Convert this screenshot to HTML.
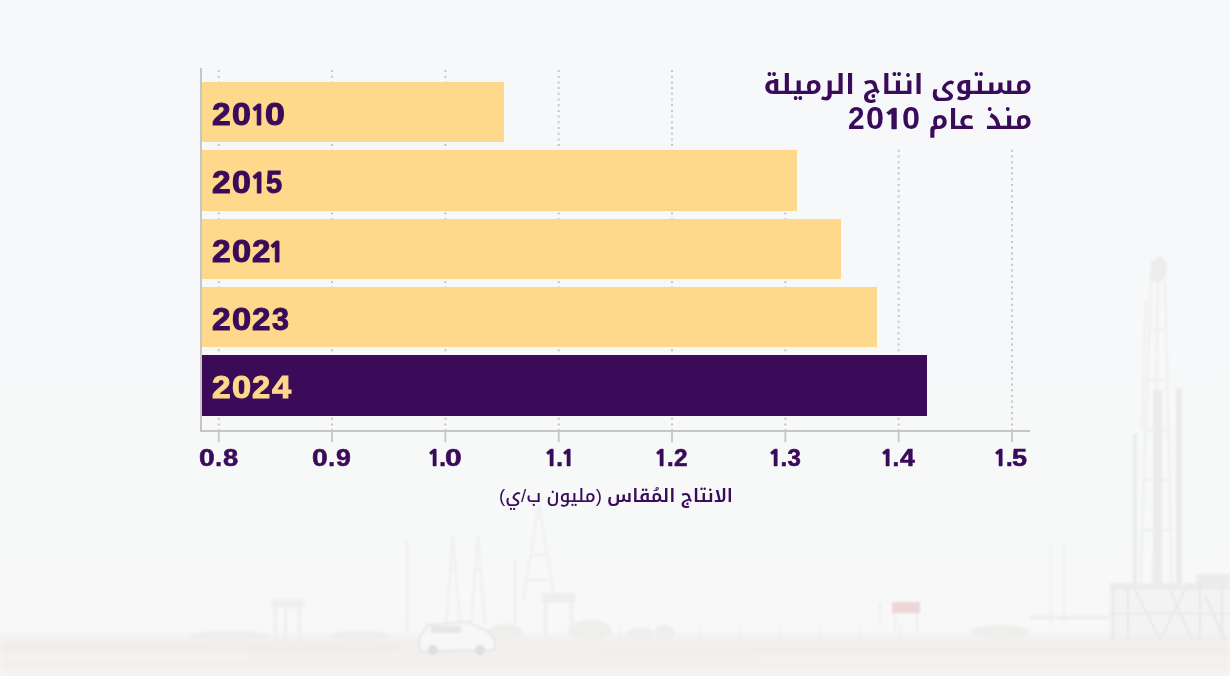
<!DOCTYPE html>
<html lang="ar">
<head>
<meta charset="utf-8">
<style>
html,body{margin:0;padding:0;}
body{width:1230px;height:676px;overflow:hidden;position:relative;background:#f7f8fa;}
#bg{position:absolute;left:0;top:0;width:1230px;height:676px;}
.bar{position:absolute;left:202px;height:60.4px;background:#fed98b;}
.bar.hl{background:#3b0b59;}
.lbl{position:absolute;left:0;top:0;}
.g{position:absolute;line-height:40px;transform-origin:0 0;color:#3a0b5a;-webkit-text-stroke-color:#3a0b5a;white-space:pre;}
.lbl.hl .g{color:#fed98b;-webkit-text-stroke-color:#fed98b;}
.bar-lib{font-family:"Liberation Sans",sans-serif;font-weight:700;font-size:30.5px;-webkit-text-stroke-width:1px;}
.bar-one{font-family:"NanumGothic","Liberation Sans",sans-serif;font-weight:800;font-size:28.5px;-webkit-text-stroke-width:0.8px;}
.tick-lib{font-family:"Liberation Sans",sans-serif;font-weight:700;font-size:24px;-webkit-text-stroke-width:0.6px;}
.title-lib{font-family:"Liberation Sans",sans-serif;font-weight:700;font-size:32px;-webkit-text-stroke-width:0px;}
.title-one{font-family:"NanumGothic","Liberation Sans",sans-serif;font-weight:800;font-size:27px;-webkit-text-stroke-width:0.4px;}
.tick-one{font-family:"NanumGothic","Liberation Sans",sans-serif;font-weight:800;font-size:22.5px;-webkit-text-stroke-width:0.5px;}
.titlebox{position:absolute;left:700px;top:58px;width:340px;height:91px;background:#f7f8fa;}
.title{position:absolute;right:198px;direction:rtl;text-align:right;font-family:"Liberation Sans","Noto Kufi Arabic","DejaVu Sans",sans-serif;font-weight:700;font-size:27.6px;line-height:35.5px;color:#3a0b5a;white-space:nowrap;}
.xl{position:absolute;left:1px;width:1230px;top:484px;text-align:center;direction:rtl;font-family:"Liberation Sans","Noto Kufi Arabic","DejaVu Sans",sans-serif;font-size:18.6px;font-weight:500;color:#3a0b5a;line-height:24px;}
.xl b{font-weight:600;}
</style>
</head>
<body>
<svg id="bg" width="1230" height="676" viewBox="0 0 1230 676">
  <defs>
    <linearGradient id="sky" x1="0" y1="0" x2="0" y2="1">
      <stop offset="0" stop-color="#f7f8fa"/>
      <stop offset="0.55" stop-color="#f7f8f9"/>
      <stop offset="0.9" stop-color="#f8f8f8"/>
      <stop offset="1" stop-color="#f8f7f7"/>
    </linearGradient>
    <linearGradient id="ground" x1="0" y1="0" x2="0" y2="1">
      <stop offset="0" stop-color="#f1eeea"/>
      <stop offset="0.3" stop-color="#f4f1ed"/>
      <stop offset="1" stop-color="#f6f3f0"/>
    </linearGradient>
    <filter id="bl" x="-10%" y="-10%" width="120%" height="120%"><feGaussianBlur stdDeviation="1.3"/></filter>
    <filter id="bl2" x="-10%" y="-10%" width="120%" height="120%"><feGaussianBlur stdDeviation="2.5"/></filter>
  </defs>
  <rect width="1230" height="676" fill="url(#sky)"/>
  <g filter="url(#bl2)">
    <rect x="0" y="634" width="1230" height="10" fill="#f3f2f0"/>
    <rect x="0" y="641" width="1230" height="40" fill="url(#ground)"/>
    <g fill="#efebe7">
      <rect x="0" y="647" width="400" height="3"/>
      <rect x="250" y="655" width="500" height="2"/>
      <rect x="600" y="650" width="630" height="3"/>
      <rect x="0" y="663" width="1230" height="2"/>
    </g>
  </g>
  <g filter="url(#bl)">
  <!-- left small tower -->
  <g fill="#efefef">
    <rect x="272" y="600" width="32" height="8"/>
    <rect x="274" y="606" width="3" height="36"/>
    <rect x="298" y="606" width="3" height="36"/>
    <rect x="284" y="608" width="3" height="34"/>
  </g>
  <!-- power towers -->
  <g stroke="#efefef" stroke-width="2" fill="none">
    <path d="M407 540 L407 632"/>
    <path d="M453 536 L446 625 M453 536 L460 625 M449 570 L457 570"/>
    <path d="M478 536 L471 625 M478 536 L485 625 M474 570 L482 570"/>
    <path d="M539 505 L523 600 M539 505 L555 600 M531 555 L547 555 M527 580 L551 580"/>
    <path d="M515 560 L515 630"/>
  </g>
  <!-- water tower / box -->
  <g fill="#eeeeed">
    <rect x="542" y="593" width="33" height="10"/>
    <rect x="544" y="602" width="3" height="35"/>
    <rect x="570" y="602" width="3" height="35"/>
  </g>
  <!-- horizon clutter -->
  <g fill="#eeeeed">
    <ellipse cx="505" cy="632" rx="18" ry="8"/>
    <ellipse cx="590" cy="630" rx="22" ry="10"/>
    <ellipse cx="640" cy="634" rx="14" ry="6"/>
    <ellipse cx="665" cy="633" rx="10" ry="8"/>
    <ellipse cx="1000" cy="632" rx="30" ry="7"/>
    <ellipse cx="230" cy="636" rx="40" ry="5"/>
    <ellipse cx="360" cy="636" rx="30" ry="5"/>
  </g>
  <!-- white vehicle -->
  <g>
    <path d="M419 638 L428 625 L468 622 L487 631 L495 640 L494 650 L420 651 Z" fill="#f7f7f7" stroke="#e2e2e2" stroke-width="1.5"/>
    <rect x="431" y="626" width="30" height="7" fill="#e6e6e6"/>
    <circle cx="433" cy="650" r="5" fill="#dedede"/>
    <circle cx="480" cy="650" r="5" fill="#dedede"/>
  </g>
  <g stroke="#efefef" stroke-width="1.5">
    <path d="M620 625 V642 M660 625 V642 M700 625 V642 M740 625 V642 M780 625 V642 M820 625 V642 M860 625 V642 M900 625 V642"/>
    <path d="M1051 545 V625 M1064 545 V625"/>
  </g>
  <!-- oil rig -->
  <g fill="none" stroke="#efefef" stroke-width="2">
    <path d="M1151 280 L1140 590 M1158 280 L1153 590 M1165 280 L1172 590 M1146 300 L1142 430"/>
    <path d="M1148 330 H1168 M1147 380 H1169 M1145 430 H1171 M1144 480 H1172 M1143 530 H1173"/>
  </g>
  <g fill="#ececec">
    <path d="M1151 262 L1160 256 L1167 262 L1166 276 L1158 284 L1150 280 Z"/>
  </g>
  <g fill="#ebebeb">
    <rect x="1153" y="390" width="9" height="200"/>
    <rect x="1176" y="388" width="6" height="197"/>
    <rect x="1133" y="434" width="4" height="150"/>
  </g>
  <g fill="#ececeb">
    <rect x="1109" y="584" width="121" height="56" opacity="0.35"/>
    <rect x="1110" y="583" width="120" height="7"/>
    <rect x="1196" y="574" width="34" height="12"/>
    <rect x="1030" y="616" width="80" height="3"/>
    <rect x="1110" y="612" width="120" height="3"/>
  </g>
  <g stroke="#e7e7e7" stroke-width="2" fill="none">
    <path d="M1113 588 V640 M1128 588 V640 M1200 580 V640 M1222 580 V640 M1135 590 L1160 640 M1185 590 L1160 640 M1205 595 L1225 640 M1170 590 L1192 640"/>
  </g>
  <g fill="#efd6d6"><rect x="892" y="602" width="28" height="11"/></g>
  <g stroke="#eaeaea" stroke-width="1.5"><path d="M880 604 V625 M895 613 V630 M917 613 V630"/></g>
  </g>
</svg>

<svg id="gridsvg" style="position:absolute;left:0;top:0" width="1230" height="676"><g stroke="#c5c5ca" stroke-width="2" stroke-dasharray="2 3.7"><line x1="218.75" y1="70" x2="218.75" y2="430"/><line x1="332.07" y1="70" x2="332.07" y2="430"/><line x1="445.39" y1="70" x2="445.39" y2="430"/><line x1="558.71" y1="70" x2="558.71" y2="430"/><line x1="672.03" y1="70" x2="672.03" y2="430"/><line x1="785.35" y1="70" x2="785.35" y2="430"/><line x1="898.67" y1="70" x2="898.67" y2="430"/><line x1="1011.99" y1="70" x2="1011.99" y2="430"/></g></svg>
<div class="titlebox"></div>
<div class="title" style="top:66.8px">مستوى انتاج الرميلة</div>
<div class="title" style="top:102.4px;word-spacing:4px">منذ عام</div>
<div class="lbl"><span class="g title-lib" style="left:848.47px;top:98.12px;transform:scale(0.931,0.986)">2</span><span class="g title-lib" style="left:865.79px;top:98.12px;transform:scale(1.013,0.986)">0</span><span class="g title-one" style="left:883.28px;top:98.73px;transform:scale(1.275,1.033)">1</span><span class="g title-lib" style="left:902.29px;top:98.12px;transform:scale(1.013,0.986)">0</span></div>

<div class="bar" style="top:82px;width:302px"></div>
<div class="bar" style="top:150.35px;width:595.3px"></div>
<div class="bar" style="top:218.7px;width:638.7px"></div>
<div class="bar" style="top:287.05px;width:674.8px"></div>
<div class="bar hl" style="top:355.4px;width:724.8px"></div>

<svg style="position:absolute;left:0;top:0" width="1230" height="676"><g fill="#c6c6c9"><rect x="200" y="68" width="2" height="364"/><rect x="200" y="430" width="830" height="2"/><rect x="217.85" y="431" width="1.8" height="11.2"/><rect x="331.17" y="431" width="1.8" height="11.2"/><rect x="444.49" y="431" width="1.8" height="11.2"/><rect x="557.81" y="431" width="1.8" height="11.2"/><rect x="671.13" y="431" width="1.8" height="11.2"/><rect x="784.45" y="431" width="1.8" height="11.2"/><rect x="897.77" y="431" width="1.8" height="11.2"/><rect x="1011.09" y="431" width="1.8" height="11.2"/></g></svg>
<div class="lbl"><span class="g bar-lib" style="left:211.90px;top:94.00px;transform:scale(1.100,1.000)">2</span><span class="g bar-lib" style="left:232.19px;top:94.00px;transform:scale(1.113,1.000)">0</span><span class="g bar-one" style="left:249.97px;top:96.30px;transform:scale(0.978,0.957)">1</span><span class="g bar-lib" style="left:265.23px;top:94.00px;transform:scale(1.173,1.000)">0</span></div>
<div class="lbl"><span class="g bar-lib" style="left:211.90px;top:162.00px;transform:scale(1.100,1.000)">2</span><span class="g bar-lib" style="left:232.19px;top:162.00px;transform:scale(1.113,1.000)">0</span><span class="g bar-one" style="left:250.03px;top:164.30px;transform:scale(0.989,0.957)">1</span><span class="g bar-lib" style="left:265.60px;top:162.00px;transform:scale(0.953,1.000)">5</span></div>
<div class="lbl"><span class="g bar-lib" style="left:211.90px;top:231.00px;transform:scale(1.100,1.000)">2</span><span class="g bar-lib" style="left:232.17px;top:231.00px;transform:scale(1.127,1.000)">0</span><span class="g bar-lib" style="left:252.21px;top:231.00px;transform:scale(1.087,1.000)">2</span><span class="g bar-one" style="left:268.23px;top:233.30px;transform:scale(0.989,0.957)">1</span></div>
<div class="lbl"><span class="g bar-lib" style="left:211.90px;top:299.00px;transform:scale(1.100,1.000)">2</span><span class="g bar-lib" style="left:232.17px;top:299.00px;transform:scale(1.127,1.000)">0</span><span class="g bar-lib" style="left:252.41px;top:299.00px;transform:scale(1.087,1.000)">2</span><span class="g bar-lib" style="left:272.00px;top:299.00px;transform:scale(1.000,1.000)">3</span></div>
<div class="lbl hl"><span class="g bar-lib" style="left:211.90px;top:367.00px;transform:scale(1.100,1.000)">2</span><span class="g bar-lib" style="left:232.17px;top:367.00px;transform:scale(1.127,1.000)">0</span><span class="g bar-lib" style="left:252.43px;top:367.00px;transform:scale(1.073,1.000)">2</span><span class="g bar-lib" style="left:272.00px;top:367.00px;transform:scale(1.129,1.000)">4</span></div>
<div class="lbl"><span class="g tick-lib" style="left:198.82px;top:438.00px;transform:scale(1.175,1.000)">0</span><span class="g tick-lib" style="left:215.20px;top:438.00px;transform:scale(1.000,1.000)">.</span><span class="g tick-lib" style="left:223.30px;top:438.00px;transform:scale(1.138,1.000)">8</span></div>
<div class="lbl"><span class="g tick-lib" style="left:311.82px;top:438.00px;transform:scale(1.175,1.000)">0</span><span class="g tick-lib" style="left:328.20px;top:438.00px;transform:scale(1.000,1.000)">.</span><span class="g tick-lib" style="left:336.30px;top:438.00px;transform:scale(1.115,1.000)">9</span></div>
<div class="lbl"><span class="g tick-one" style="left:426.51px;top:438.00px;transform:scale(1.043,1.000)">1</span><span class="g tick-lib" style="left:439.20px;top:438.00px;transform:scale(1.000,1.000)">.</span><span class="g tick-lib" style="left:444.85px;top:438.00px;transform:scale(1.250,1.000)">0</span></div>
<div class="lbl"><span class="g tick-one" style="left:543.51px;top:438.00px;transform:scale(1.043,1.000)">1</span><span class="g tick-lib" style="left:556.20px;top:438.00px;transform:scale(1.000,1.000)">.</span><span class="g tick-one" style="left:561.01px;top:438.00px;transform:scale(1.043,1.000)">1</span></div>
<div class="lbl"><span class="g tick-one" style="left:654.41px;top:438.00px;transform:scale(1.043,1.000)">1</span><span class="g tick-lib" style="left:667.10px;top:438.00px;transform:scale(1.000,1.000)">.</span><span class="g tick-lib" style="left:674.00px;top:438.00px;transform:scale(1.015,1.000)">2</span></div>
<div class="lbl"><span class="g tick-one" style="left:767.91px;top:438.00px;transform:scale(1.043,1.000)">1</span><span class="g tick-lib" style="left:780.60px;top:438.00px;transform:scale(1.000,1.000)">.</span><span class="g tick-lib" style="left:787.50px;top:438.00px;transform:scale(1.000,1.000)">3</span></div>
<div class="lbl"><span class="g tick-one" style="left:879.91px;top:438.00px;transform:scale(1.043,1.000)">1</span><span class="g tick-lib" style="left:892.60px;top:438.00px;transform:scale(1.000,1.000)">.</span><span class="g tick-lib" style="left:899.50px;top:438.00px;transform:scale(1.107,1.000)">4</span></div>
<div class="lbl"><span class="g tick-one" style="left:993.21px;top:438.00px;transform:scale(1.043,1.000)">1</span><span class="g tick-lib" style="left:1005.90px;top:438.00px;transform:scale(1.000,1.000)">.</span><span class="g tick-lib" style="left:1011.67px;top:438.00px;transform:scale(1.125,1.000)">5</span></div>
<div class="xl"><b>الانتاج المُقاس</b> (مليون ب/ي)</div>
</body>
</html>
